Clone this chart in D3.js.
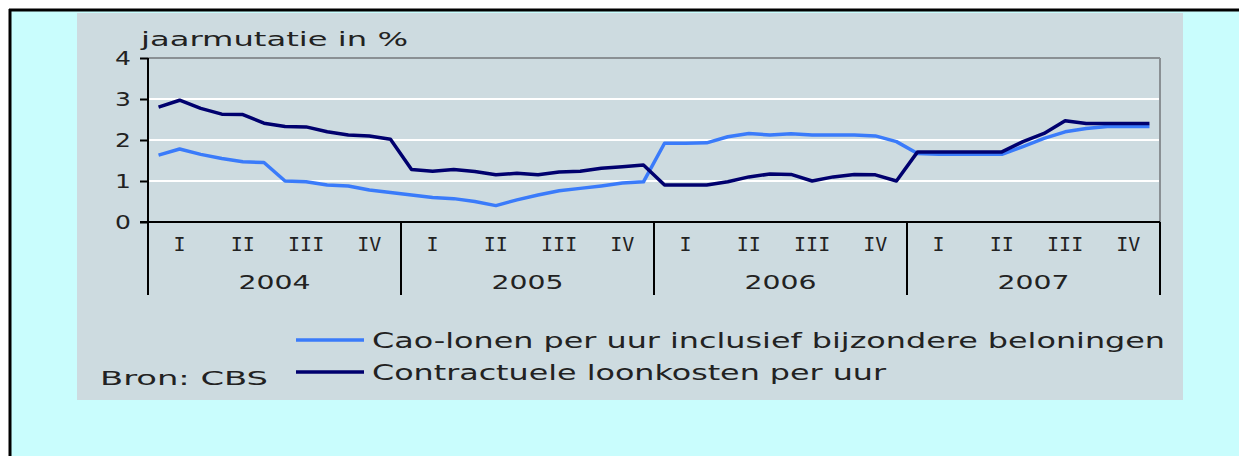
<!DOCTYPE html>
<html><head><meta charset="utf-8">
<script src="https://cdn.jsdelivr.net/npm/d3@7"></script>
<style>html,body{margin:0;padding:0;background:#fff;}svg{display:block;}</style>
</head><body>
<script>
const years = ["2004", "2005", "2006", "2007"];
const quarters = ["I", "II", "III", "IV"];
const yTicks = [0, 1, 2, 3, 4];
const seriesNames = ["Cao-lonen per uur inclusief bijzondere beloningen", "Contractuele loonkosten per uur"];
const caoLonen = [
  1.63, 1.78, 1.65, 1.55, 1.47, 1.45, 1.0, 0.98, 0.9, 0.88, 0.78, 0.72,
  0.66, 0.6, 0.57, 0.5, 0.4, 0.54, 0.66, 0.76, 0.82, 0.88, 0.95, 0.98,
  1.92, 1.92, 1.93, 2.08, 2.16, 2.12, 2.15, 2.12, 2.12, 2.12, 2.1, 1.96,
  1.67, 1.65, 1.65, 1.65, 1.65, 1.84, 2.04, 2.2, 2.28, 2.33, 2.33, 2.33
];
const contractueleLoonkosten = [
  2.8, 2.97, 2.77, 2.63, 2.62, 2.41, 2.33, 2.32, 2.2, 2.12, 2.1, 2.02,
  1.28, 1.24, 1.28, 1.23, 1.15, 1.19, 1.15, 1.22, 1.24, 1.31, 1.35, 1.39,
  0.9, 0.9, 0.9, 0.98, 1.1, 1.17, 1.16, 1.0, 1.1, 1.16, 1.15, 1.0,
  1.71, 1.71, 1.71, 1.71, 1.71, 1.96, 2.16, 2.47, 2.4, 2.4, 2.4, 2.4
];
const yTitle = "jaarmutatie in %";
const source = "Bron: CBS";

const W = 1239, H = 456;
const L = 148, R = 1160, T = 58, B = 222;
const FONT = "DejaVu Sans";
const txt = "#222";

const svg = d3.select("body").append("svg").attr("width", W).attr("height", H);
svg.append("rect").attr("width", W).attr("height", H).attr("fill", "#fff");
svg.append("rect").attr("x", 9).attr("y", 9).attr("width", W).attr("height", H).attr("fill", "#c9fdfd");
svg.append("line").attr("x1", 9).attr("x2", W).attr("y1", 10).attr("y2", 10).attr("stroke", "#000").attr("stroke-width", 3);
svg.append("line").attr("x1", 10).attr("x2", 10).attr("y1", 9).attr("y2", H).attr("stroke", "#000").attr("stroke-width", 3);
svg.append("rect").attr("x", 77).attr("y", 13).attr("width", 1183 - 77).attr("height", 400 - 13).attr("fill", "#cddbe0");

const y = d3.scaleLinear().domain([0, 4]).range([B, T]);
const xm = d3.scaleLinear().domain([0, 48]).range([L, R]);
const xq = d3.scaleBand().domain(d3.range(16)).range([L, R]);
const xy = d3.scaleBand().domain(years).range([L, R]);

// gridlines
svg.append("g").selectAll("line").data(yTicks.filter(d => d > 0 && d < 4)).join("line")
  .attr("x1", L).attr("x2", R).attr("y1", d => y(d)).attr("y2", d => y(d))
  .attr("stroke", "#fff").attr("stroke-width", 2);
// top & right border
svg.append("line").attr("x1", L).attr("x2", R).attr("y1", y(4)).attr("y2", y(4)).attr("stroke", "#8a9094").attr("stroke-width", 2);
svg.append("line").attr("x1", R).attr("x2", R).attr("y1", y(4)).attr("y2", B).attr("stroke", "#8a9094").attr("stroke-width", 2);

// lines
const lineGen = d3.line().x((d, i) => xm(i + 0.5)).y(d => y(d));
svg.append("path").datum(caoLonen).attr("d", lineGen).attr("fill", "none")
  .attr("stroke", "#3a7bfa").attr("stroke-width", 3.5).attr("stroke-linejoin", "round");
svg.append("path").datum(contractueleLoonkosten).attr("d", lineGen).attr("fill", "none")
  .attr("stroke", "#00006e").attr("stroke-width", 3.5).attr("stroke-linejoin", "round");

// y axis
const yAxis = svg.append("g").attr("transform", `translate(${L},0)`)
  .call(d3.axisLeft(y).tickValues(yTicks).tickSize(8).tickPadding(9).tickFormat(d3.format("d")));
yAxis.select(".domain").remove();
yAxis.selectAll(".tick line").attr("stroke", "#000").attr("stroke-width", 2);
yAxis.selectAll(".tick text").attr("font-family", FONT).attr("font-size", 20).attr("fill", txt)
  .attr("transform", "scale(1.25,1)").attr("x", -17 / 1.25);
svg.append("line").attr("x1", L).attr("x2", L).attr("y1", T).attr("y2", 295).attr("stroke", "#000").attr("stroke-width", 2);

// x axis
svg.append("line").attr("x1", L - 8).attr("x2", R).attr("y1", B).attr("y2", B).attr("stroke", "#000").attr("stroke-width", 2);
svg.append("g").selectAll("line").data(years).join("line")
  .attr("x1", d => xy(d) + xy.bandwidth()).attr("x2", d => xy(d) + xy.bandwidth())
  .attr("y1", B).attr("y2", 295).attr("stroke", "#000").attr("stroke-width", 2);

svg.append("g").selectAll("text").data(d3.range(16)).join("text")
  .attr("x", d => xq(d) + xq.bandwidth() / 2).attr("y", 251)
  .attr("text-anchor", "middle").attr("font-family", "DejaVu Sans Mono").attr("font-size", 20)
  .attr("fill", txt).text(d => quarters[d % 4]);

svg.append("g").selectAll("text").data(years).join("text")
  .attr("x", d => xy(d) + xy.bandwidth() / 2).attr("y", 289)
  .attr("text-anchor", "middle").attr("font-family", FONT).attr("font-size", 20)
  .attr("textLength", 72).attr("lengthAdjust", "spacingAndGlyphs")
  .attr("fill", txt).text(d => d);

// title
svg.append("text").attr("x", 141).attr("y", 46).attr("font-family", FONT).attr("font-size", 20)
  .attr("textLength", 267).attr("lengthAdjust", "spacingAndGlyphs").attr("fill", txt).text(yTitle);

// legend
const legendColors = ["#3a7bfa", "#00006e"];
const legendY = [340, 372];
const legendLens = [793, 514];
seriesNames.forEach((name, i) => {
  svg.append("line").attr("x1", 296).attr("x2", 364).attr("y1", legendY[i]).attr("y2", legendY[i])
    .attr("stroke", legendColors[i]).attr("stroke-width", 3.5);
  svg.append("text").attr("x", 372).attr("y", legendY[i] + 8).attr("font-family", FONT).attr("font-size", 21)
    .attr("textLength", legendLens[i]).attr("lengthAdjust", "spacingAndGlyphs").attr("fill", txt).text(name);
});
svg.append("text").attr("x", 100).attr("y", 385).attr("font-family", FONT).attr("font-size", 20)
  .attr("textLength", 168).attr("lengthAdjust", "spacingAndGlyphs").attr("fill", txt).text(source);
</script>
</body></html>
